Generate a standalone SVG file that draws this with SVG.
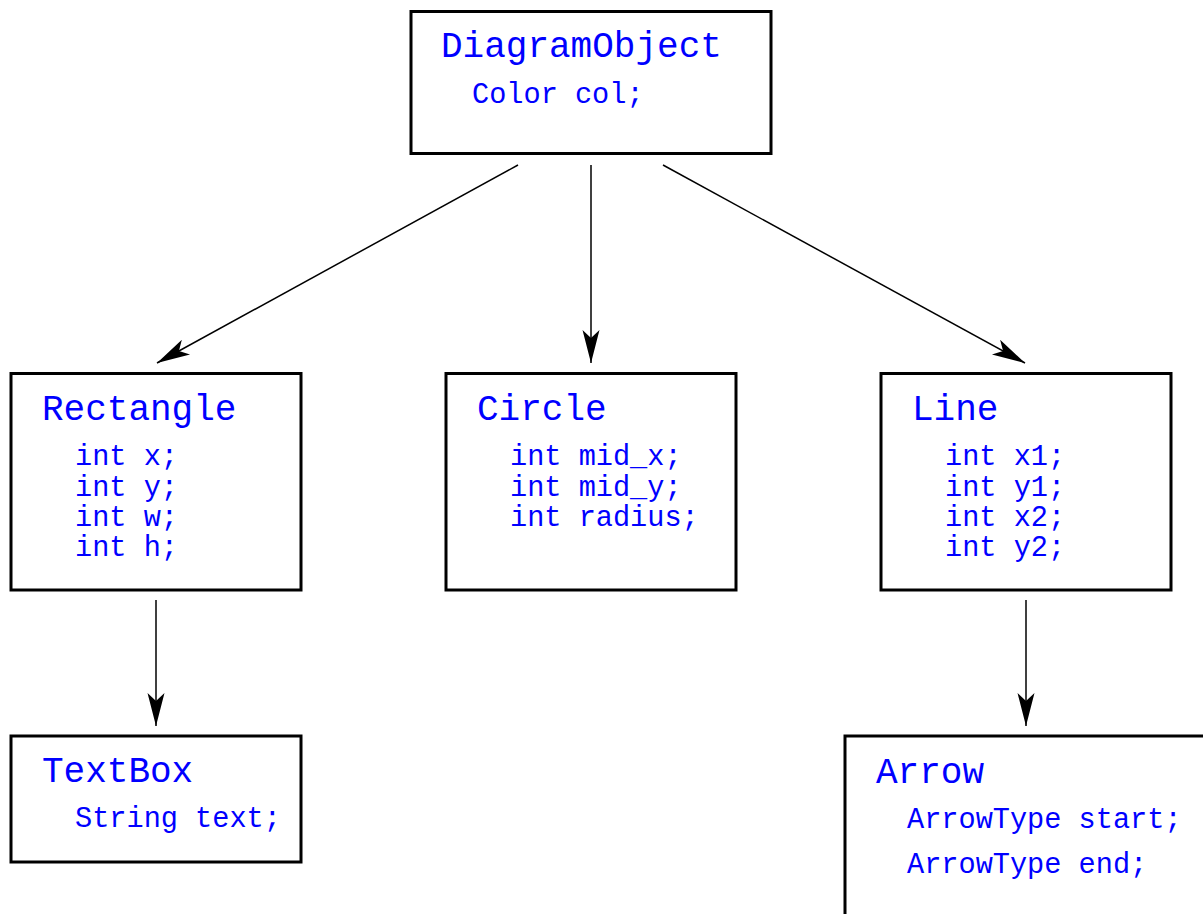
<svg xmlns="http://www.w3.org/2000/svg" width="1203" height="914" viewBox="0 0 1203 914">
  <style>
    .box { fill: #ffffff; stroke: #000000; stroke-width: 3; }
    .title { font-family: "Liberation Mono", "Courier New", monospace; font-size: 36px; fill: #0000ff; }
    .field { font-family: "Liberation Mono", "Courier New", monospace; font-size: 28.6px; fill: #0000ff; }
    .edge { fill: none; stroke: #000000; stroke-width: 1.5; marker-end: url(#head); }
  </style>
  <defs>
    <marker id="head" markerUnits="userSpaceOnUse" viewBox="-34 -10 36 20" refX="0" refY="0" markerWidth="36" markerHeight="20" orient="auto">
      <path d="M0,0 L-33,-8.5 L-25,0 L-33,8.5 Z" fill="#000000"/>
    </marker>
  </defs>

  <rect width="1203" height="914" fill="#ffffff"/>

  <g id="connectors">
    <line class="edge" x1="518" y1="165" x2="157" y2="363"/>
    <line class="edge" x1="591" y1="165" x2="591" y2="363"/>
    <line class="edge" x1="663" y1="165" x2="1025" y2="363"/>
    <line class="edge" x1="156" y1="600" x2="156" y2="726"/>
    <line class="edge" x1="1026" y1="600" x2="1026" y2="726"/>
  </g>

  <g id="DiagramObject">
    <rect class="box" x="411" y="11.5" width="360" height="142"/>
    <text class="title" x="441" y="57">DiagramObject</text>
    <text class="field" x="472" y="103">Color col;</text>
  </g>

  <g id="Rectangle">
    <rect class="box" x="11" y="373.5" width="290" height="216.5"/>
    <text class="title" x="42" y="420">Rectangle</text>
    <text class="field" x="75" y="465">int x;</text>
    <text class="field" x="75" y="496">int y;</text>
    <text class="field" x="75" y="526">int w;</text>
    <text class="field" x="75" y="556">int h;</text>
  </g>

  <g id="Circle">
    <rect class="box" x="446" y="373.5" width="290" height="216.5"/>
    <text class="title" x="477" y="420">Circle</text>
    <text class="field" x="510" y="465">int mid_x;</text>
    <text class="field" x="510" y="496">int mid_y;</text>
    <text class="field" x="510" y="526">int radius;</text>
  </g>

  <g id="Line">
    <rect class="box" x="881" y="373.5" width="290" height="216.5"/>
    <text class="title" x="912" y="420">Line</text>
    <text class="field" x="945" y="465">int x1;</text>
    <text class="field" x="945" y="496">int y1;</text>
    <text class="field" x="945" y="526">int x2;</text>
    <text class="field" x="945" y="556">int y2;</text>
  </g>

  <g id="TextBox">
    <rect class="box" x="11" y="736" width="290" height="126"/>
    <text class="title" x="42" y="782">TextBox</text>
    <text class="field" x="75" y="827">String text;</text>
  </g>

  <g id="Arrow">
    <rect class="box" x="845" y="736" width="380" height="200"/>
    <text class="title" x="876" y="783">Arrow</text>
    <text class="field" x="907" y="828">ArrowType start;</text>
    <text class="field" x="907" y="873">ArrowType end;</text>
  </g>
</svg>
